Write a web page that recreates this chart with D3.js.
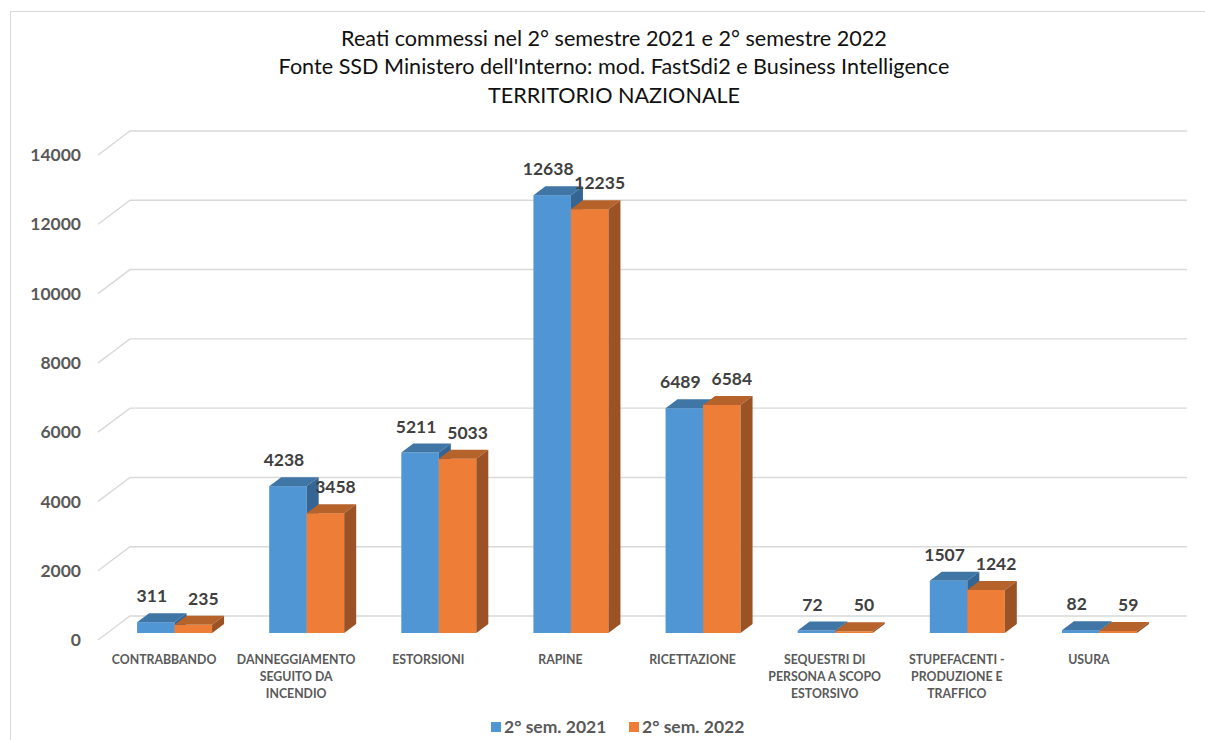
<!DOCTYPE html>
<html>
<head>
<meta charset="utf-8">
<script src="https://cdn.jsdelivr.net/npm/d3@7"></script>
<style>
  html, body { margin: 0; padding: 0; background: #fff; }
  svg { display: block; }
</style>
</head>
<body>
<svg id="chart" width="1205" height="740"></svg>
<script>
// Crimes reported: 2nd half 2021 vs 2nd half 2022
const categories = [
  "CONTRABBANDO",
  "DANNEGGIAMENTO SEGUITO DA INCENDIO",
  "ESTORSIONI",
  "RAPINE",
  "RICETTAZIONE",
  "SEQUESTRI DI PERSONA A SCOPO ESTORSIVO",
  "STUPEFACENTI - PRODUZIONE E TRAFFICO",
  "USURA"
];
const categoryLines = [
  ["CONTRABBANDO"],
  ["DANNEGGIAMENTO", "SEGUITO DA", "INCENDIO"],
  ["ESTORSIONI"],
  ["RAPINE"],
  ["RICETTAZIONE"],
  ["SEQUESTRI DI", "PERSONA A SCOPO", "ESTORSIVO"],
  ["STUPEFACENTI -", "PRODUZIONE E", "TRAFFICO"],
  ["USURA"]
];
const seriesNames = ["2° sem. 2021", "2° sem. 2022"];
const sem2021 = [311, 4238, 5211, 12638, 6489, 72, 1507, 82];
const sem2022 = [235, 3458, 5033, 12235, 6584, 50, 1242, 59];
const yTicks = [0, 2000, 4000, 6000, 8000, 10000, 12000, 14000];
const titleLines = [
  "Reati commessi nel 2° semestre 2021 e 2° semestre 2022",
  "Fonte SSD Ministero dell'Interno: mod. FastSdi2 e Business Intelligence",
  "TERRITORIO NAZIONALE"
];

const seriesValues = [sem2021, sem2022];
const colors = {
  front: ["#5096d4", "#ee7e37"],
  top:   ["#3f76a6", "#b6622b"],
  side:  ["#356592", "#9b5225"]
};

const svg = d3.select("#chart");
const font = "Lato, 'Open Sans', sans-serif";

// chart area border
svg.append("rect")
  .attr("x", 10.5).attr("y", 11.5)
  .attr("width", 1300).attr("height", 800)
  .attr("fill", "none").attr("stroke", "#d9d9d9").attr("stroke-width", 1);

// 3D geometry: the wall depth and the bar depth (oblique projection)
const wallDX = 32, wallDY = -24;
const barPlaneDX = 9.3, barPlaneDY = -7;
const barDX = 12, barDY = -9;

const x = d3.scaleBand().domain(categories).range([98, 1155]).padding(0);
const groupWidth = 75;
const xInner = d3.scaleBand().domain(seriesNames).range([0, groupWidth]).padding(0);

const yFront = d3.scaleLinear().domain([0, 14000]).range([640, 155]);
const yBar = d3.scaleLinear().domain([0, 14000]).range([640 + barPlaneDY, 155 + barPlaneDY]);

// gridlines: diagonal on the side wall, horizontal on the back wall
const grid = svg.append("g").attr("stroke", "#d9d9d9").attr("stroke-width", 1.4).attr("fill", "none");
yTicks.forEach(t => {
  const xf = x.range()[0], yf = yFront(t);
  grid.append("path")
    .attr("d", `M${xf},${yf}L${xf + wallDX},${yf + wallDY}L${x.range()[1] + wallDX},${yf + wallDY}`);
});

// y axis labels
svg.append("g").selectAll("text").data(yTicks).join("text")
  .attr("x", 81).attr("y", d => yFront(d))
  .attr("dy", "0.35em")
  .attr("text-anchor", "end")
  .attr("font-family", font).attr("font-weight", "bold").attr("font-size", 17.5)
  .attr("fill", "#595959")
  .text(d => d);

// bars
const bars = svg.append("g");
categories.forEach((cat, i) => {
  const groupX = x(cat) + x.bandwidth() / 2 + barPlaneDX + 1.2 - groupWidth / 2;
  seriesNames.forEach((s, k) => {
    const v = seriesValues[k][i];
    const x0 = groupX + xInner(s), w = xInner.bandwidth();
    const top = yBar(v), bottom = yBar(0);
    const g = bars.append("g");
    g.append("rect")
      .attr("x", x0).attr("y", top).attr("width", w).attr("height", bottom - top)
      .attr("fill", colors.front[k]);
    g.append("path")
      .attr("d", `M${x0},${top}L${x0 + barDX},${top + barDY}L${x0 + w + barDX},${top + barDY}L${x0 + w},${top}Z`)
      .attr("fill", colors.top[k]);
    g.append("path")
      .attr("d", `M${x0 + w},${top}L${x0 + w + barDX},${top + barDY}L${x0 + w + barDX},${bottom + barDY}L${x0 + w},${bottom}Z`)
      .attr("fill", colors.side[k]);
  });
});

// value labels
const labelShift = [-4, 10];
const labels = svg.append("g")
  .attr("font-family", font).attr("font-weight", "bold").attr("font-size", 17.5)
  .attr("fill", "#404040").attr("text-anchor", "middle");
categories.forEach((cat, i) => {
  const groupX = x(cat) + x.bandwidth() / 2 + barPlaneDX + 1.2 - groupWidth / 2;
  seriesNames.forEach((s, k) => {
    const v = seriesValues[k][i];
    const cx = groupX + xInner(s) + xInner.bandwidth() / 2 + labelShift[k];
    labels.append("text")
      .attr("x", cx).attr("y", yBar(v) + barDY - 17)
      .attr("dy", "0.35em")
      .text(v);
  });
});

// category labels
const xl = svg.append("g")
  .attr("font-family", font).attr("font-weight", "bold").attr("font-size", 12.3)
  .attr("fill", "#595959").attr("text-anchor", "middle");
categories.forEach((cat, i) => {
  const t = xl.append("text").attr("x", x(cat) + x.bandwidth() / 2).attr("y", 660).attr("dy", "0.35em");
  categoryLines[i].forEach((line, j) => {
    t.append("tspan").attr("x", x(cat) + x.bandwidth() / 2).attr("dy", j === 0 ? "0.35em" : 16.8).text(line);
  });
});

// title
svg.append("g").selectAll("text").data(titleLines).join("text")
  .attr("x", 614).attr("y", (d, i) => 38 + i * 28.5)
  .attr("dy", "0.35em")
  .attr("text-anchor", "middle")
  .attr("font-family", font).attr("font-size", 21.6)
  .attr("fill", "#111")
  .text(d => d);

// legend
const legend = svg.append("g").attr("font-family", font).attr("font-weight", "bold").attr("font-size", 17.5).attr("fill", "#595959");
const legendX = [491, 629];
seriesNames.forEach((s, k) => {
  legend.append("rect").attr("x", legendX[k]).attr("y", 722).attr("width", 10).attr("height", 10).attr("fill", colors.front[k]);
  legend.append("text").attr("x", legendX[k] + 13).attr("y", 727).attr("dy", "0.35em").text(s);
});
</script>
</body>
</html>
